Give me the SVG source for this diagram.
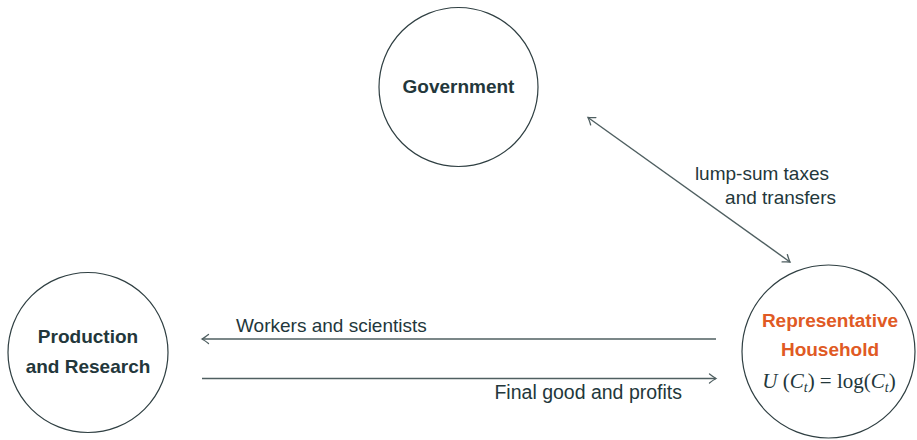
<svg xmlns="http://www.w3.org/2000/svg" width="917" height="440" viewBox="0 0 917 440">
  <style>
    .node { fill: #ffffff; stroke: #2f3f42; stroke-width: 1.2; }
    .label { font-family: "Liberation Sans", Arial, sans-serif; font-size: 19px; fill: #23373b; }
    .bold { font-weight: bold; }
    .alert { fill: #e05a24; }
    .math { font-family: "Liberation Serif", "Times New Roman", serif; font-size: 21px; fill: #23373b; }
    .edge { fill: none; stroke: #4f5f61; stroke-width: 1.4; }
  </style>
  <defs>
    <marker id="tip" viewBox="-8 -6 10 12" markerWidth="10" markerHeight="12" refX="0" refY="0" orient="auto-start-reverse" markerUnits="userSpaceOnUse">
      <path d="M -6.5 -4.5 Q -2 -1 0 0 Q -2 1 -6.5 4.5" fill="none" stroke="#4f5f61" stroke-width="1.3" stroke-linecap="round"/>
    </marker>
  </defs>

  <rect width="917" height="440" fill="#ffffff"/>

  <g id="connectors">
    <line class="edge" x1="716" y1="339" x2="202" y2="339" marker-end="url(#tip)"/>
    <line class="edge" x1="202" y1="378.5" x2="716" y2="378.5" marker-end="url(#tip)"/>
    <line class="edge" x1="588" y1="117.5" x2="790" y2="262" marker-start="url(#tip)" marker-end="url(#tip)"/>
    <text class="label" x="236" y="332">Workers and scientists</text>
    <text class="label" x="682" y="399" text-anchor="end" style="font-size:19.5px">Final good and profits</text>
    <text class="label" x="829" y="180" text-anchor="end">lump-sum taxes</text>
    <text class="label" x="836" y="204" text-anchor="end">and transfers</text>
  </g>

  <g id="government">
    <circle class="node" cx="458.5" cy="87" r="79.5"/>
    <text class="label bold" x="458.5" y="93" text-anchor="middle">Government</text>
  </g>

  <g id="production">
    <circle class="node" cx="88" cy="352.5" r="80"/>
    <text class="label bold" x="88" y="343" text-anchor="middle">Production</text>
    <text class="label bold" x="88" y="373" text-anchor="middle">and Research</text>
  </g>

  <g id="household">
    <circle class="node" cx="828.5" cy="351.5" r="86.5"/>
    <text class="label bold alert" x="830" y="327" text-anchor="middle">Representative</text>
    <text class="label bold alert" x="830" y="356" text-anchor="middle">Household</text>
    <text class="math" x="829" y="388" text-anchor="middle"><tspan font-style="italic">U</tspan> (<tspan font-style="italic">C</tspan><tspan font-style="italic" font-size="14" dy="4">t</tspan><tspan dy="-4">) = log(</tspan><tspan font-style="italic">C</tspan><tspan font-style="italic" font-size="14" dy="4">t</tspan><tspan dy="-4">)</tspan></text>
  </g>
</svg>
